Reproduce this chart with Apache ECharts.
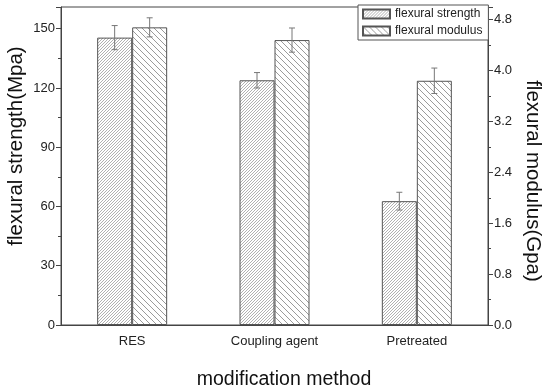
<!DOCTYPE html>
<html><head><meta charset="utf-8">
<script src="https://cdn.jsdelivr.net/npm/echarts@6/dist/echarts.min.js"></script>
<style>html,body{margin:0;padding:0;background:#fff}#c{width:550px;height:391px}</style>
</head><body><div id="c"></div>
<script>
const categories = ['RES', 'Coupling agent', 'Pretreated'];
const strength = [145.5, 123.9, 62.7];
const strengthErr = [6.1, 3.9, 4.5];
const modulus = [4.68, 4.48, 3.84];
const modulusErr = [0.15, 0.19, 0.2];
const leftTicks = [0, 30, 60, 90, 120, 150];
const rightTicks = [0.0, 0.8, 1.6, 2.4, 3.2, 4.0, 4.8];

function makePattern(spacing, dir, bg, fg, lw) {
  const s = spacing * 4;
  const c = document.createElement('canvas');
  c.width = s; c.height = s;
  const ctx = c.getContext('2d');
  ctx.fillStyle = bg; ctx.fillRect(0, 0, s, s);
  ctx.strokeStyle = fg; ctx.lineWidth = lw;
  ctx.beginPath();
  for (let k = -s; k <= 2 * s; k += spacing) {
    if (dir > 0) { ctx.moveTo(k, s); ctx.lineTo(k + s, 0); }
    else { ctx.moveTo(k, 0); ctx.lineTo(k + s, s); }
  }
  ctx.stroke();
  return c;
}
const patS = makePattern(3, 1, '#ffffff', '#a8a8a8', 0.9);
const patM = makePattern(6, -1, '#ffffff', '#909090', 0.9);

const chart = echarts.init(document.getElementById('c'));
const font = 'Liberation Sans, Arial, sans-serif';
const BW = 35;

function errSeries(name, vals, errs, axisIdx, offset) {
  return {
    type: 'custom', name: name + ' err', yAxisIndex: axisIdx, z: 10,
    data: vals.map((v, i) => [i, v - errs[i], v + errs[i]]),
    renderItem: function (params, api) {
      const lo = api.coord([api.value(0), api.value(1)]);
      const hi = api.coord([api.value(0), api.value(2)]);
      const x = lo[0] + offset;
      const w = 3;
      const st = { stroke: '#777', lineWidth: 1 };
      return { type: 'group', children: [
        { type: 'line', shape: { x1: x, y1: lo[1], x2: x, y2: hi[1] }, style: st },
        { type: 'line', shape: { x1: x - w, y1: lo[1], x2: x + w, y2: lo[1] }, style: st },
        { type: 'line', shape: { x1: x - w, y1: hi[1], x2: x + w, y2: hi[1] }, style: st }
      ]};
    }
  };
}

chart.setOption({
  animation: false,
  textStyle: { fontFamily: font },
  grid: { left: 61, right: 62, top: 7, bottom: 66, show: true, borderColor: '#444', borderWidth: 1 },
  legend: {
    left: 358, top: 5, orient: 'vertical', itemWidth: 27, itemHeight: 9, itemGap: 5, icon: 'rect',
    padding: [3, 6, 3, 4], borderColor: '#555', borderWidth: 1, backgroundColor: '#fff',
    textStyle: { fontSize: 12, color: '#222', fontFamily: font },
    data: ['flexural strength', 'flexural modulus']
  },
  graphic: [
    { type: 'text', x: 16, y: 146, rotation: Math.PI / 2,
      style: { text: 'flexural strength(Mpa)', font: '20.5px ' + font, fill: '#111', align: 'center', verticalAlign: 'middle' } },
    { type: 'text', x: 533, y: 181, rotation: -Math.PI / 2,
      style: { text: 'flexural modulus(Gpa)', font: '20.5px ' + font, fill: '#111', align: 'center', verticalAlign: 'middle' } },
    { type: 'text', x: 284, y: 380,
      style: { text: 'modification method', font: '19.5px ' + font, fill: '#111', align: 'center', verticalAlign: 'middle' } }
  ],
  xAxis: {
    type: 'category', data: categories,
    axisLine: { lineStyle: { color: '#444' } }, axisTick: { show: false },
    axisLabel: { fontSize: 13, color: '#222', margin: 10 }
  },
  yAxis: [
    {
      type: 'value', min: 0, max: 161, interval: 30, position: 'left',
      axisLine: { show: true, lineStyle: { color: '#444' } },
      axisTick: { show: true, length: 5, lineStyle: { color: '#444' } },
      minorTick: { show: true, splitNumber: 2, length: 3, lineStyle: { color: '#444' } },
      splitLine: { show: false },
      axisLabel: { fontSize: 13, color: '#222', margin: 6, showMaxLabel: false,
        formatter: v => leftTicks.includes(v) ? String(v) : '' }
    },
    {
      type: 'value', min: 0, max: 5.0, interval: 0.8, position: 'right',
      axisLine: { show: true, lineStyle: { color: '#444' } },
      axisTick: { show: true, length: 5, lineStyle: { color: '#444' } },
      minorTick: { show: true, splitNumber: 2, length: 3, lineStyle: { color: '#444' } },
      splitLine: { show: false },
      axisLabel: { fontSize: 13, color: '#222', margin: 6, showMaxLabel: false,
        formatter: v => rightTicks.some(t => Math.abs(t - v) < 1e-6) ? v.toFixed(1) : '' }
    }
  ],
  series: [
    { type: 'bar', name: 'flexural strength', data: strength, yAxisIndex: 0, barWidth: BW, barGap: '0%',
      itemStyle: { color: { image: patS, repeat: 'repeat' }, borderColor: '#555', borderWidth: 1 } },
    { type: 'bar', name: 'flexural modulus', data: modulus, yAxisIndex: 1, barWidth: BW, barGap: '0%',
      itemStyle: { color: { image: patM, repeat: 'repeat' }, borderColor: '#555', borderWidth: 1 } },
    errSeries('flexural strength', strength, strengthErr, 0, -BW / 2),
    errSeries('flexural modulus', modulus, modulusErr, 1, BW / 2)
  ]
});
</script></body></html>
